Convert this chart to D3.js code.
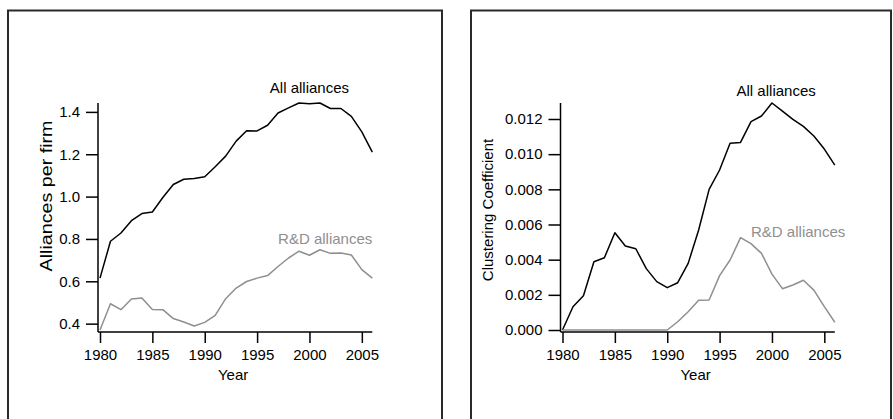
<!DOCTYPE html>
<html>
<head>
<meta charset="utf-8">
<script src="https://cdn.jsdelivr.net/npm/d3@7"></script>
<style>
  body { margin: 0; background: #fff; }
  svg { display: block; font-family: "Liberation Sans", Arial, sans-serif; }
</style>
</head>
<body>
<div id="chart"></div>
<script>
(function(){
// years shared by both panels
const years = d3.range(1980, 2007);

// left panel: alliances per firm
const allPerFirm = [0.615, 0.789, 0.828, 0.886, 0.920, 0.927, 0.996, 1.057, 1.082, 1.085,
                    1.094, 1.141, 1.191, 1.262, 1.311, 1.310, 1.337, 1.395, 1.419, 1.442,
                    1.439, 1.442, 1.416, 1.416, 1.379, 1.306, 1.210];
const rdPerFirm = [0.370, 0.494, 0.466, 0.516, 0.521, 0.467, 0.466, 0.424, 0.408, 0.389,
                   0.406, 0.439, 0.518, 0.568, 0.599, 0.615, 0.627, 0.670, 0.710, 0.742,
                   0.723, 0.749, 0.732, 0.734, 0.724, 0.655, 0.615];

// right panel: clustering coefficient
const allClustering = [0.0000, 0.00132, 0.00195, 0.00388, 0.00411, 0.00553, 0.00478, 0.00462, 0.00349, 0.00275,
                       0.00241, 0.00269, 0.00379, 0.00569, 0.00800, 0.00910, 0.01062, 0.01067, 0.01185, 0.01217,
                       0.01291, 0.01245, 0.01198, 0.01158, 0.01103, 0.01029, 0.00938];
const rdClustering = [0, 0, 0, 0, 0, 0, 0, 0, 0, 0,
                      0, 0.00047, 0.00104, 0.00169, 0.00171, 0.00309, 0.00398, 0.00525, 0.00491, 0.00436,
                      0.00318, 0.00235, 0.00256, 0.00283, 0.00227, 0.00133, 0.00044];

const xTicks = [1980, 1985, 1990, 1995, 2000, 2005];
const leftYTicks = [0.4, 0.6, 0.8, 1.0, 1.2, 1.4];
const rightYTicks = [0.000, 0.002, 0.004, 0.006, 0.008, 0.010, 0.012];

const seriesNames = ["All alliances", "R&D alliances"];
// where the in-plot labels sit, in data units [year, value]
const leftLabelPos = [[2000, 1.49], [2001.5, 0.776]];
const rightLabelPos = [[2000.4, 0.01331], [2002.5, 0.00531]];

const W = 893, H = 419;
const black = "#000", grey = "#8f8f8f";

const svg = d3.select("#chart").append("svg")
    .attr("width", W)
    .attr("height", H);

function panel(opt) {
    const x = d3.scaleLinear().domain([1980, 2006]).range([opt.x0, opt.x1]);
    const allVals = opt.series[0].concat(opt.series[1]);
    const y = d3.scaleLinear().domain(d3.extent(allVals)).range([330, 103]);
    const standoff = 2;

    // frame round the panel
    svg.append("path")
        .attr("d", `M${opt.box[0]},${H + 5} V${opt.box[1]} H${opt.box[2]} V${H + 5}`)
        .attr("fill", "none")
        .attr("stroke", "#2a2a2a")
        .attr("stroke-width", 2);

    const g = svg.append("g");

    // lines
    const line = d3.line()
        .x((d, i) => x(years[i]))
        .y(d => y(d));
    opt.series.forEach(function(s, k) {
        g.append("path")
            .datum(s)
            .attr("fill", "none")
            .attr("stroke", k === 0 ? black : grey)
            .attr("stroke-width", 1.5)
            .attr("stroke-linejoin", "round")
            .attr("d", line);
    });

    // x axis
    const xAxis = g.append("g")
        .attr("transform", `translate(0,${y.range()[0] + standoff})`)
        .call(d3.axisBottom(x).tickValues(xTicks).tickFormat(d3.format("d"))
            .tickSize(11).tickPadding(6).tickSizeOuter(0));
    xAxis.select(".domain").remove();
    xAxis.append("line")
        .attr("x1", opt.x0 - standoff).attr("x2", opt.x1)
        .attr("stroke", black).attr("stroke-width", 1.5);

    // y axis
    const yAxis = g.append("g")
        .attr("transform", `translate(${opt.x0 - standoff},0)`)
        .call(d3.axisLeft(y).tickValues(opt.yTicks).tickFormat(d3.format(opt.fmt))
            .tickSize(12).tickPadding(6).tickSizeOuter(0));
    yAxis.select(".domain").remove();
    yAxis.append("line")
        .attr("y1", y.range()[1]).attr("y2", y.range()[0] + standoff)
        .attr("stroke", black).attr("stroke-width", 1.5);

    g.selectAll(".tick line").attr("stroke", black).attr("stroke-width", 1.5);
    g.selectAll(".tick text")
        .attr("fill", black)
        .style("font-size", "15px")
        .style("font-family", "'Liberation Sans', Arial, sans-serif");

    // axis titles
    g.append("text")
        .attr("x", (opt.x0 + opt.x1) / 2 - 3)
        .attr("y", 380)
        .attr("text-anchor", "middle")
        .style("font-size", "15px")
        .text("Year");
    const yt = g.append("text")
        .attr("transform", `translate(${opt.yTitle[0]},${opt.yTitle[1]}) rotate(-90)`)
        .attr("text-anchor", "middle")
        .style("font-size", (opt.yTitleSize || 15) + "px")
        .text(opt.yLabel);
    if (opt.yTitleLen) {
        yt.attr("textLength", opt.yTitleLen).attr("lengthAdjust", "spacingAndGlyphs");
    }

    // series labels
    opt.labels.forEach(function(p, k) {
        g.append("text")
            .attr("x", x(p[0]))
            .attr("y", y(p[1]))
            .attr("text-anchor", "middle")
            .attr("fill", k === 0 ? black : grey)
            .style("font-size", "15px")
            .text(seriesNames[k]);
    });
}

panel({
    x0: 100, x1: 372.3,
    box: [8, 10.5, 442],
    series: [allPerFirm, rdPerFirm],
    yTicks: leftYTicks, fmt: ".1f",
    yLabel: "Alliances per firm", yTitle: [52, 196], yTitleSize: 16.5, yTitleLen: 151,
    labels: leftLabelPos
});

panel({
    x0: 562.5, x1: 834.8,
    box: [471, 10.5, 891],
    series: [allClustering, rdClustering],
    yTicks: rightYTicks, fmt: ".3f",
    yLabel: "Clustering Coefficient", yTitle: [493, 210],
    labels: rightLabelPos
});
})();
</script>
</body>
</html>
